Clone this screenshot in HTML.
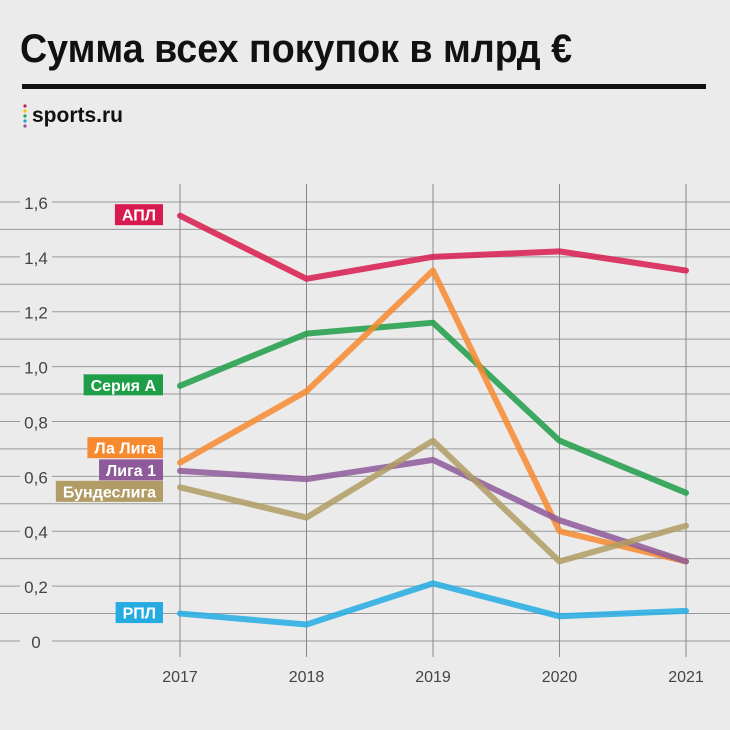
<!DOCTYPE html>
<html><head><meta charset="utf-8"><style>
body{margin:0;background:#ebebeb;}
svg{display:block;font-family:"Liberation Sans",sans-serif;}
</style></head><body>
<svg id="c" width="730" height="730" viewBox="0 0 730 730">
<rect width="730" height="730" fill="#ebebeb"/>
<text x="20" y="62" font-size="40" font-weight="bold" fill="#111" textLength="552" lengthAdjust="spacingAndGlyphs">Сумма всех покупок в млрд €</text>
<rect x="22" y="84" width="684" height="5" fill="#111"/>
<g>
<circle cx="25" cy="106" r="1.6" fill="#c2185b"/><circle cx="25" cy="111" r="1.6" fill="#f5c400"/><circle cx="25" cy="116" r="1.6" fill="#1ea64b"/><circle cx="25" cy="121" r="1.6" fill="#1ea0e0"/><circle cx="25" cy="126" r="1.6" fill="#8e5a9a"/>
<text x="32" y="122" font-size="21" font-weight="bold" fill="#111">sports.ru</text>
</g>
<g id="grid"></g><g id="lines"></g><g id="labels"></g>
</svg>
<script>
const years=['2017','2018','2019','2020','2021'];
const yTicks=[0,0.2,0.4,0.6,0.8,1.0,1.2,1.4,1.6];
const yTickLabels=['0','0,2','0,4','0,6','0,8','1,0','1,2','1,4','1,6'];
const seriesNames=['АПЛ','Серия А','Ла Лига','Лига 1','Бундеслига','РПЛ'];
const apl=[1.55,1.32,1.40,1.42,1.35];
const seriea=[0.93,1.12,1.16,0.73,0.54];
const laliga=[0.65,0.91,1.35,0.40,0.29];
const ligue1=[0.62,0.59,0.66,0.44,0.29];
const bundes=[0.56,0.45,0.73,0.29,0.42];
const rpl=[0.10,0.06,0.21,0.09,0.11];
const seriesData=[apl,seriea,laliga,ligue1,bundes,rpl];
const colors=['#d81b4f','#1f9e48','#f7892f','#8e5a9a','#b09c64','#23abe2'];
const labelOffsets=[-1,-1,-15,-1,4,-1];
const NS='http://www.w3.org/2000/svg';
const x=i=>180+i*126.5;
const y=v=>641-v*274.4;
function mk(t,a,p){const e=document.createElementNS(NS,t);for(const k in a)e.setAttribute(k,a[k]);p.appendChild(e);return e;}
const grid=document.getElementById('grid'),lines=document.getElementById('lines'),labels=document.getElementById('labels');
for(let k=0;k<=16;k++){
  const vv=k/10;
  if(k%2===0){
    const l1=mk('line',{x1:0,x2:20,y1:y(vv),y2:y(vv),stroke:'#999','stroke-width':1},grid);
    
    
    const l2=mk('line',{x1:52,x2:730,y1:y(vv),y2:y(vv),stroke:'#999','stroke-width':1},grid);
    
    
  } else {
    const l=mk('line',{x1:0,x2:730,y1:y(vv),y2:y(vv),stroke:'#999','stroke-width':1},grid);
    
    
  }
}
yTicks.forEach((t,i)=>{
  const e=mk('text',{x:36,y:y(t)+7,'text-anchor':'middle','font-size':17,fill:'#444'},grid);
  e.textContent=yTickLabels[i];
  
  
});
years.forEach((yr,i)=>{
  const l=mk('line',{x1:x(i),x2:x(i),y1:184,y2:657,stroke:'#888','stroke-width':1},grid);
  
  
  const e=mk('text',{x:x(i),y:682,'text-anchor':'middle','font-size':16,fill:'#444'},grid);
  e.textContent=yr;
  
  
});
seriesData.forEach((d,s)=>{
  const p=mk('polyline',{points:d.map((v,i)=>x(i)+','+y(v)).join(' '),fill:'none',stroke:colors[s],'stroke-width':6,'stroke-opacity':0.85,'stroke-linejoin':'round','stroke-linecap':'round'},lines);
  
  
});
seriesData.forEach((d,s)=>{
  const cy=y(d[0])+labelOffsets[s];
  const g=mk('g',{},labels);
  
  
  const r=mk('rect',{y:cy-10.5,height:21,fill:colors[s]},g);
  const t=mk('text',{x:156,y:cy+6,'text-anchor':'end','font-size':16,'font-weight':'bold',fill:'#fff'},g);
  t.textContent=seriesNames[s];
  const w=t.getComputedTextLength()+14;
  r.setAttribute('x',163-w);
  r.setAttribute('width',w);
});
</script>
</body></html>
